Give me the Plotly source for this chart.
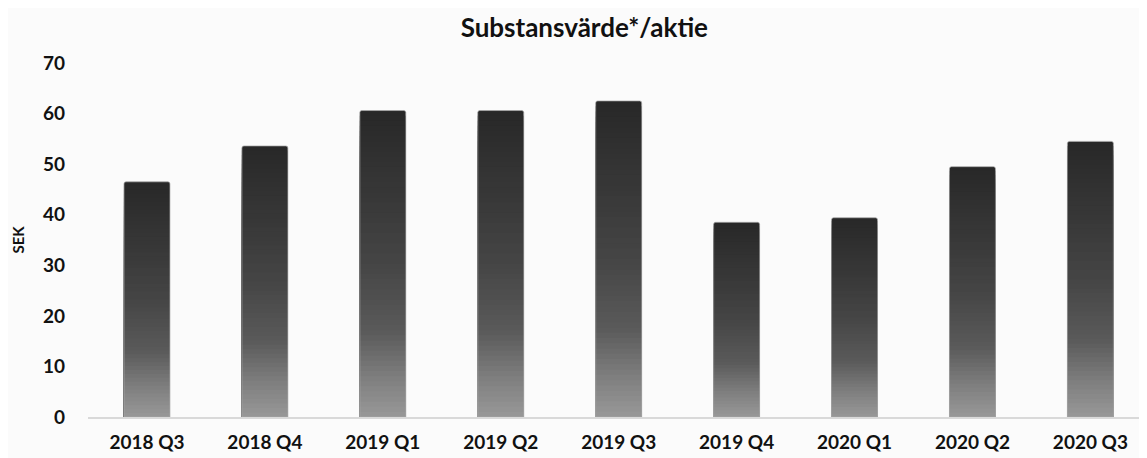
import plotly.graph_objects as go

categories = ["2018 Q3", "2018 Q4", "2019 Q1", "2019 Q2", "2019 Q3",
              "2019 Q4", "2020 Q1", "2020 Q2", "2020 Q3"]
values = [46.5, 53.6, 60.6, 60.6, 62.5, 38.5, 39.4, 49.5, 54.5]
y_ticks = [0, 10, 20, 30, 40, 50, 60, 70]

title_text = "Substansvärde*/aktie"
y_title = "SEK"

FONT = "Lato, 'Noto Sans', sans-serif"

# gradient stops: (fraction of bar height from bottom, gray level)
stops = [(0.0, 0x98), (0.12, 0x80), (0.28, 0x5a), (0.5, 0x45), (0.75, 0x36), (1.0, 0x28)]


def gray_at(f):
    for (f0, g0), (f1, g1) in zip(stops[:-1], stops[1:]):
        if f0 <= f <= f1:
            t = (f - f0) / (f1 - f0) if f1 > f0 else 0
            g = round(g0 + (g1 - g0) * t)
            return f"rgb({g},{g},{g})"
    g = stops[-1][1]
    return f"rgb({g},{g},{g})"


fig = go.Figure()
N = 60
bar_w = 0.39
for k in range(N):
    frac = 1 - k / N
    mid = frac - 0.5 / N
    fig.add_trace(go.Bar(
        x=categories,
        y=[v * frac for v in values],
        width=bar_w,
        marker=dict(color=gray_at(mid), line=dict(width=0)),
        hoverinfo="skip" if k else "x+y",
        showlegend=False,
    ))

# outline
fig.add_trace(go.Bar(
    x=categories, y=values, width=bar_w,
    marker=dict(color="rgba(0,0,0,0)", line=dict(width=1, color="rgba(170,170,170,0.7)")),
    hoverinfo="skip", showlegend=False,
))

fig.update_layout(
    width=1139, height=450,
    barmode="overlay",
    barcornerradius=2,
    paper_bgcolor="#fbfbfb",
    plot_bgcolor="#fbfbfb",
    margin=dict(l=80, r=0, t=55, b=41),
    title=dict(text=f"<b>{title_text}</b>", x=0.506, xanchor="center",
               y=0.955, yanchor="middle", yref="container",
               font=dict(family=FONT, size=26, color="#111111")),
    font=dict(family=FONT, color="#111111"),
)
fig.update_xaxes(
    range=[-0.5, 8.48],
    showline=True, linecolor="#d9d9d9", linewidth=2,
    showgrid=False, ticks="",
    tickfont=dict(family=FONT, size=19, color="#111111", weight="bold"),
    ticklabelstandoff=7,
)
fig.update_yaxes(
    range=[0, 70], tickvals=y_ticks,
    showgrid=False, zeroline=False, showline=False, ticks="",
    tickfont=dict(family=FONT, size=19, color="#111111", weight="bold"),
    ticklabelstandoff=22,
    title=dict(text=f"<b>{y_title}</b>", font=dict(family=FONT, size=15, color="#111111"), standoff=14),
)

fig.write_html("out.html")
